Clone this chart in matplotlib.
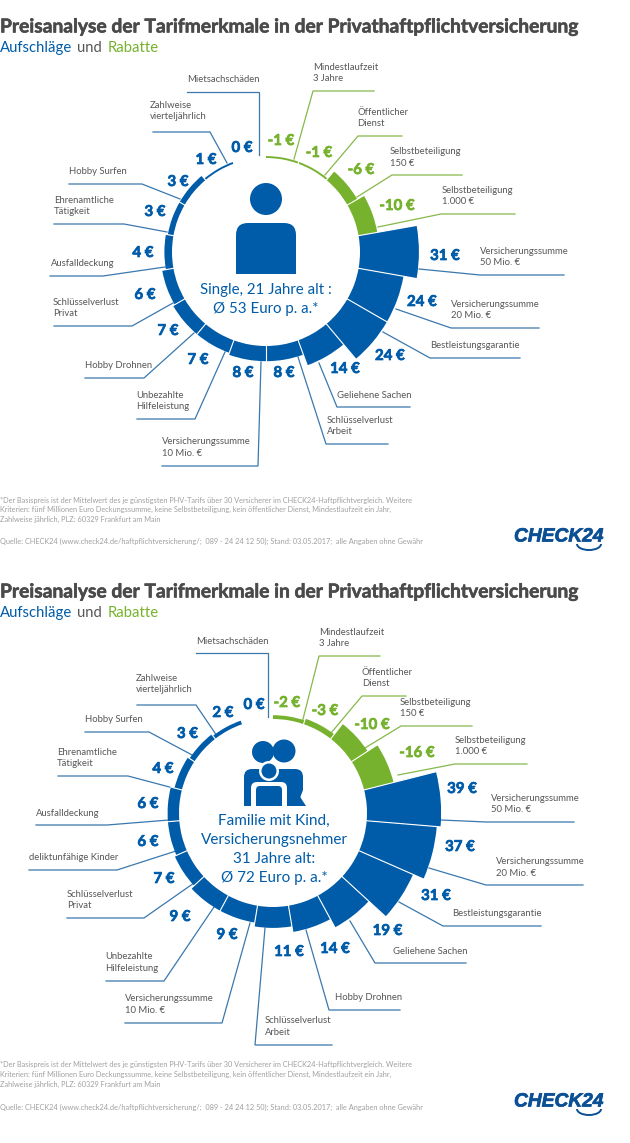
import numpy as np
import matplotlib
matplotlib.use('Agg')
import matplotlib.pyplot as plt
import matplotlib.patheffects as pe
from matplotlib.patches import Circle, Polygon, FancyBboxPatch, Arc

plt.rcParams['font.family'] = ['Lato', 'DejaVu Sans']

BLUE = '#005ca9'
GREEN = '#76b22d'
LINE_BLUE = '#3a78ad'
LINE_GREEN = '#86b84a'
GREY = '#575757'
NOTE = '#a0a0a0'
LOGO = '#0b4f94'

# data, clockwise from 12 o'clock
top_names = ['Mindestlaufzeit\n3 Jahre', 'Öffentlicher\nDienst', 'Selbstbeteiligung\n150 €',
             'Selbstbeteiligung\n1.000 €', 'Versicherungssumme\n50 Mio. €',
             'Versicherungssumme\n20 Mio. €', 'Bestleistungsgarantie', 'Geliehene Sachen',
             'Schlüsselverlust\nArbeit', 'Versicherungssumme\n10 Mio. €',
             'Unbezahlte\nHilfeleistung', 'Hobby Drohnen', 'Schlüsselverlust\nPrivat',
             'Ausfalldeckung', 'Ehrenamtliche\nTätigkeit', 'Hobby Surfen',
             'Zahlweise\nvierteljährlich', 'Mietsachschäden']
top_values = [-1, -1, -6, -10, 31, 24, 24, 14, 8, 8, 7, 7, 6, 4, 3, 3, 1, 0]

bottom_names = ['Mindestlaufzeit\n3 Jahre', 'Öffentlicher\nDienst', 'Selbstbeteiligung\n150 €',
                'Selbstbeteiligung\n1.000 €', 'Versicherungssumme\n50 Mio. €',
                'Versicherungssumme\n20 Mio. €', 'Bestleistungsgarantie', 'Geliehene Sachen',
                'Hobby Drohnen', 'Schlüsselverlust\nArbeit', 'Versicherungssumme\n10 Mio. €',
                'Unbezahlte\nHilfeleistung', 'Schlüsselverlust\nPrivat', 'deliktunfähige Kinder',
                'Ausfalldeckung', 'Ehrenamtliche\nTätigkeit', 'Hobby Surfen',
                'Zahlweise\nvierteljährlich', 'Mietsachschäden']
bottom_values = [-2, -3, -10, -16, 39, 37, 31, 19, 14, 11, 9, 9, 7, 6, 6, 4, 3, 2, 0]

# layout in picture pixels
top_name_xy = [(313, 73), (357, 118), (390, 157.5), (442, 196), (480, 257), (451, 310), (430, 345),
               (337, 395), (327, 426), (162, 447.5), (136, 401), (85, 366), (53, 308), (51, 263),
               (54, 206), (69, 172), (150, 111), (187, 79)]
top_value_xy = [(281, 141), (319, 153), (361, 170), (397, 206), (445, 256), (422, 302), (390, 356),
                (345, 369), (284, 373), (243, 373), (198, 360), (168, 331), (145, 295), (143, 253),
                (155, 212), (178, 182), (206, 160), (242, 148)]
top_leaders = [[(374, 91), (313, 91), (294, 159)], [(402, 136), (358, 136), (325, 175)],
               [(462, 175), (392, 175), (357, 197)], [(515, 214), (441, 214), (378, 227)],
               [(564, 275), (480, 275), (419, 269)], [(539, 328), (451, 328), (396, 309)],
               [(520, 358), (430, 358), (383, 332)], [(410, 407), (337, 407), (319, 363)],
               [(388, 444), (326, 444), (298, 357)], [(162, 466), (258, 466), (261, 362)],
               [(137, 419), (195, 419), (225, 352)], [(85, 378), (144, 378), (194, 333)],
               [(54, 326), (132, 326), (173, 303)], [(50, 276), (103, 276), (165, 267)],
               [(54, 224), (124, 224), (167, 232)], [(69, 184), (142, 184), (180, 199)],
               [(153, 132), (210, 132), (227, 163)], [(187, 92), (259, 92), (259, 155)]]

bottom_name_xy = [(319, 638), (362, 678), (400, 708), (455, 746), (491, 804), (496, 867.5), (452, 913),
                  (393, 951), (335, 998), (264.5, 1026.5), (125, 1004.5), (105, 962.5), (67, 900),
                  (29, 858), (36, 813), (57, 758), (85, 720), (136, 684), (196, 641)]
bottom_value_xy = [(287, 703), (325, 711), (372, 725), (417, 753), (462, 789), (460, 847), (436, 896),
                   (387.5, 931), (335, 949), (289, 952), (227, 935), (180, 917), (164, 879), (148, 842),
                   (148, 804), (163, 769), (187.5, 734), (223, 713), (254, 705)]
bottom_leaders = [[(380, 656), (319, 656), (302, 723)], [(406, 696), (362, 696), (331, 733)],
                  [(472, 726), (401, 726), (365, 748)], [(527, 764), (455, 764), (398, 775)],
                  [(574, 822), (486, 822), (441, 820)], [(583, 885), (486, 885), (429, 868)],
                  [(541, 926), (443, 926), (399, 902)], [(466, 963), (375, 963), (350, 921)],
                  [(400, 1010), (329, 1010), (306, 930)], [(332, 1045), (255, 1045), (265, 928)],
                  [(125, 1023), (222, 1023), (250, 923)], [(106, 981), (164, 981), (214, 907)],
                  [(67, 918), (144, 918), (194, 883)], [(29, 870), (117, 870), (176, 851)],
                  [(36, 825), (107, 825), (169, 820)], [(58, 776), (128, 776), (177, 789)],
                  [(85, 732), (149, 732), (194, 756)], [(137, 705), (196, 705), (217, 736)],
                  [(196, 653), (268, 653), (268, 717)]]

note_lines = ['*Der Basispreis ist der Mittelwert des je günstigsten PHV-Tarifs über 30 Versicherer im CHECK24-Haftpflichtvergleich. Weitere',
              'Kriterien: fünf Millionen Euro Deckungssumme, keine Selbstbeteiligung, kein öffentlicher Dienst, Mindestlaufzeit ein Jahr,',
              'Zahlweise jährlich, PLZ: 60329 Frankfurt am Main']
source = 'Quelle: CHECK24 (www.check24.de/haftpflichtversicherung/;  089 - 24 24 12 50); Stand: 03.05.2017;  alle Angaben ohne Gewähr'

W, H = 630, 1143
PX_PER_EUR = 1.9
R_IN = 94

fig = plt.figure(figsize=(W / 100, H / 100), dpi=100, facecolor='white')
ax = fig.add_axes([0, 0, 1, 1])
ax.set_xlim(0, W)
ax.set_ylim(H, 0)
ax.axis('off')


def heavy(color, width):
    # Lato has no weight as dense as the original face, so thicken it a bit
    return [pe.withStroke(linewidth=width, foreground=color)]


def draw_ring(cx, cy, values):
    half = 190
    pol = fig.add_axes([(cx - half) / W, (H - cy - half) / H, 2 * half / W, 2 * half / H],
                       projection='polar')
    pol.patch.set_alpha(0)
    pol.set_theta_zero_location('N')
    pol.set_theta_direction(-1)
    pol.set_rlim(0, half / PX_PER_EUR)
    pol.axis('off')
    vals = np.array(values)
    step = 2 * np.pi / len(vals)
    theta = np.arange(len(vals)) * step
    colors = [GREEN if v < 0 else BLUE for v in vals]
    r0 = R_IN / PX_PER_EUR
    pol.bar(theta, np.abs(vals), width=step, bottom=r0, align='edge', color=colors, linewidth=0)
    # thin white separators between neighbouring segments
    depth = np.maximum(np.abs(vals), np.roll(np.abs(vals), 1))
    pol.vlines(theta[1:], r0 - 0.5, r0 + depth[1:] + 0.5, color='white', lw=0.8)


def draw_labels(names, values, name_xy, value_xy, leaders):
    for name, v, nxy, vxy, pts in zip(names, values, name_xy, value_xy, leaders):
        c = GREEN if v < 0 else BLUE
        ax.text(nxy[0], nxy[1], name, fontsize=6.85, color=GREY, ha='left', va='center', linespacing=1.3)
        ax.text(vxy[0], vxy[1], '%d €' % v, fontsize=10.8, fontweight='bold', color=c, ha='center', va='center',
                path_effects=heavy(c, 0.5))
        xs, ys = zip(*pts)
        ax.plot(xs, ys, color=LINE_GREEN if v < 0 else LINE_BLUE, lw=0.9, solid_joinstyle='miter')


def draw_header(y_title, y_sub):
    ax.text(0, y_title, 'Preisanalyse der Tarifmerkmale in der Privathaftpflichtversicherung',
            fontsize=13.85, fontweight='bold', color='#4a4a4a', ha='left', va='center',
            path_effects=heavy('#4a4a4a', 0.4))
    ax.text(0, y_sub, 'Aufschläge', fontsize=10.7, color=BLUE, ha='left', va='center')
    ax.text(77, y_sub, 'und', fontsize=10.7, color=GREY, ha='left', va='center')
    ax.text(108, y_sub, 'Rabatte', fontsize=10.7, color=GREEN, ha='left', va='center')


def draw_footer(y_note, y_source, y_logo):
    for i, line in enumerate(note_lines):
        ax.text(0, y_note + i * 9.8, line, fontsize=5.3, color=NOTE, ha='left', va='center')
    ax.text(0, y_source, source, fontsize=5.3, color=NOTE, ha='left', va='center')
    ax.text(514, y_logo, 'CHECK24', fontsize=13.8, family='Liberation Sans', fontweight='bold',
            fontstyle='italic', color=LOGO, ha='left', va='center', path_effects=heavy(LOGO, 0.5))
    ax.add_patch(Arc((589, y_logo + 7), 24, 12, theta1=0, theta2=180, color=LOGO, lw=1.4))


def draw_person(cx):
    ax.add_patch(Circle((cx, 199), 16, color=BLUE, lw=0))
    ax.add_patch(FancyBboxPatch((cx - 30 + 12, 223 + 12), 36, 60, boxstyle='round,pad=12,rounding_size=12',
                                color=BLUE, lw=0, clip_on=True))
    ax.add_patch(Polygon([(cx - 31, 274), (cx + 31, 274), (cx + 31, 310), (cx - 31, 310)], color='white', lw=0, zorder=2))


def draw_family():
    ax.add_patch(Circle((263, 752), 11, color=BLUE, lw=0))
    ax.add_patch(Circle((284, 751), 11.5, color=BLUE, lw=0))
    ax.add_patch(FancyBboxPatch((252, 777), 43, 28, boxstyle='round,pad=8,rounding_size=8', color=BLUE, lw=0))
    ax.add_patch(Polygon([(297, 806), (308, 806), (308, 790), (303, 790)], color='white', lw=0))
    ax.add_patch(Polygon([(296, 806), (306, 806), (297, 792)], color=BLUE, lw=0))
    ax.add_patch(Polygon([(240, 806), (310, 806), (310, 814), (240, 814)], color='white', lw=0, zorder=2))
    ax.add_patch(Circle((269, 771), 10, color='white', lw=0))
    ax.add_patch(Circle((269, 771), 7.5, color=BLUE, lw=0))
    ax.add_patch(FancyBboxPatch((257, 788), 24, 22, boxstyle='round,pad=6,rounding_size=6', color='white', lw=0))
    ax.add_patch(FancyBboxPatch((260, 790), 18, 20, boxstyle='round,pad=4,rounding_size=4', color=BLUE, lw=0))
    ax.add_patch(Polygon([(250, 806), (290, 806), (290, 816), (250, 816)], color='white', lw=0, zorder=2))


draw_header(27, 48)
draw_person(266)
draw_ring(266, 252, top_values)
draw_labels(top_names, top_values, top_name_xy, top_value_xy, top_leaders)
ax.text(266, 290, 'Single, 21 Jahre alt :', fontsize=10.8, color=BLUE, ha='center', va='center', zorder=5)
ax.text(266, 309, 'Ø 53 Euro p. a.*', fontsize=10.8, color=BLUE, ha='center', va='center', zorder=5)
draw_footer(500, 541, 537)

draw_header(592, 613)
draw_family()
draw_ring(273, 813, bottom_values)
draw_labels(bottom_names, bottom_values, bottom_name_xy, bottom_value_xy, bottom_leaders)
for y, s in zip([821, 840, 859, 878], ['Familie mit Kind,', 'Versicherungsnehmer', '31 Jahre alt:', 'Ø 72 Euro p. a.*']):
    ax.text(274, y, s, fontsize=11, color=BLUE, ha='center', va='center', zorder=5)
draw_footer(1065, 1107, 1102)

fig.savefig('out.png', dpi=100)
